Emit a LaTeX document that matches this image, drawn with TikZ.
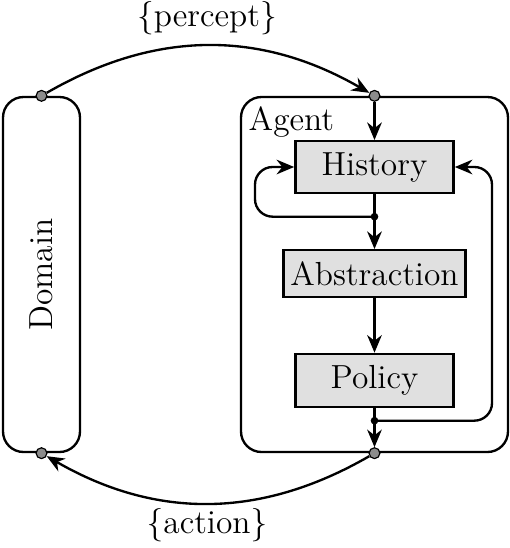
\documentclass[tikz,border=0pt]{standalone}
\usetikzlibrary{arrows.meta,positioning,calc}
\definecolor{boxgray}{HTML}{E0E0E0}
\definecolor{portgray}{HTML}{8C8C8C}

\begin{document}
\begin{tikzpicture}[
  every node/.style={font=\fontsize{11.4}{13}\selectfont},
  frame/.style={draw, rounded corners=7pt, thick},
  module/.style={draw, fill=boxgray, thick, minimum width=1.9cm,
                 minimum height=0.62cm, inner sep=2pt},
  flow/.style={thick, -{Stealth[length=6pt,width=5pt]}},
  port/.style={circle, draw, fill=portgray, inner sep=0pt,
               minimum size=0.13cm, line width=0.4pt},
  tap/.style={circle, fill, inner sep=0pt, minimum size=2.6pt}
]
\useasboundingbox (0,0) rectangle (6.12,-6.576);

%% Domain and agent
\node[frame, minimum width=0.924cm, minimum height=4.26cm] (domain) at (0.498,-3.294) {};
\node[rotate=90] at (domain.center) {Domain};
\node[frame, minimum width=3.204cm, minimum height=4.26cm] (agent) at (4.494,-3.294) {};
\node[anchor=north west, inner sep=0pt] (agentlbl) at ($(agent.north west)+(0.1,-0.12)$) {Agent};

%% Ports
\node[port] (domout) at (domain.north) {};
\node[port] (domin)  at (domain.south) {};
\node[port] (agin)   at (agent.north) {};
\node[port] (agout)  at (agent.south) {};

%% Modules
\node[module] (history) at (4.494,-2.004) {History};
\node[module, minimum width=2.18cm, minimum height=0.56cm] (abstr) at (4.494,-3.282) {Abstraction};
\node[module, minimum height=0.64cm] (policy) at (4.494,-4.566) {Policy};

%% Taps and loop lanes
\node[tap] (htap) at (4.494,-2.6) {};
\node[tap] (ptap) at (4.494,-5.048) {};
\coordinate (lleft)  at (3.06,0);
\coordinate (lright) at (5.904,0);

%% Flows inside agent
\draw[flow] (agin) -- (history);
\draw[thick] (history) -- (htap.center);
\draw[flow] (htap.center) -- (abstr);
\draw[flow] (abstr) -- (policy);
\draw[thick] (policy) -- (ptap.center);
\draw[flow] (ptap.center) -- (agout);
\draw[flow, rounded corners=6pt] (htap.center) -- (htap -| lleft) |- (history.west);
\draw[flow, rounded corners=6pt] (ptap.center) -- (ptap -| lright) |- (history.east);

%% Percept and action
\draw[flow] (domout) to[bend left=30] (agin);
\draw[flow] (agout) to[bend left=30] (domin);
\node (percept) at (2.484,-0.216) {\{percept\}};
\node (action)  at (2.484,-6.3)   {\{action\}};

\end{tikzpicture}
\end{document}
